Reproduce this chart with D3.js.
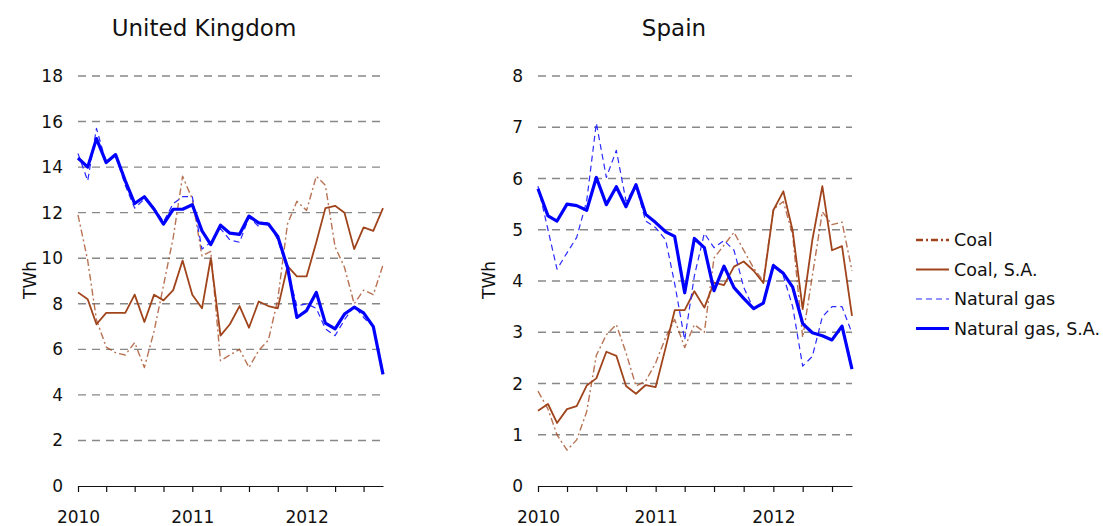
<!DOCTYPE html>
<html>
<head>
<meta charset="utf-8">
<script src="https://cdn.jsdelivr.net/npm/d3@7"></script>
<style>
  body { margin: 0; background: #fff; }
  text { font-family: 'DejaVu Sans', Verdana, sans-serif; fill: #111; }
  .grid line { stroke: #888; stroke-width: 1.4; stroke-dasharray: 8 6; }
  .x.axis path, .x.axis line { stroke: #111; stroke-width: 1.2; }
</style>
</head>
<body>
<div id="chart"></div>
<script>
// monthly, Jan 2010 .. Sep 2012
const months = d3.range(33).map(i => new Date(2010, i, 1))

const ukCoal = [11.9, 9.9, 7.3, 6.1, 5.85, 5.75, 6.3, 5.2, 6.8, 8.8, 10.9, 13.6, 12.6, 10.1, 10.3, 5.5,
  5.75, 6.0, 5.2, 5.95, 6.4, 8.2, 11.5, 12.5, 12.1, 13.6, 13.2, 10.5, 9.6, 8.0, 8.6, 8.4, 9.7]
const ukCoalSA = [8.5, 8.2, 7.1, 7.6, 7.6, 7.6, 8.4, 7.2, 8.4, 8.15, 8.6, 9.9, 8.4, 7.8, 10.0, 6.6,
  7.1, 7.9, 6.95, 8.1, 7.9, 7.8, 9.65, 9.2, 9.2, 10.7, 12.2, 12.3, 12.0, 10.4, 11.35, 11.2, 12.2]
const ukGas = [14.6, 13.4, 15.7, 14.2, 14.5, 13.2, 12.2, 12.6, 12.2, 11.6, 12.4, 12.7, 12.7, 10.4, 10.7, 11.3,
  10.8, 10.7, 11.8, 11.4, 11.6, 10.8, 9.5, 7.9, 8.0, 7.8, 6.9, 6.6, 7.3, 7.9, 7.4, 7.0, 5.0]
const ukGasSA = [14.4, 14.0, 15.25, 14.2, 14.55, 13.4, 12.4, 12.7, 12.15, 11.5, 12.15, 12.15, 12.35, 11.2, 10.6, 11.45,
  11.1, 11.05, 11.85, 11.55, 11.5, 10.95, 9.6, 7.4, 7.7, 8.5, 7.15, 6.9, 7.55, 7.85, 7.6, 7.0, 4.9]

const esCoal = [1.85, 1.5, 1.0, 0.7, 0.9, 1.45, 2.55, 2.95, 3.15, 2.6, 1.95, 2.05, 2.4, 2.9, 3.25, 2.7,
  3.15, 3.0, 4.45, 4.7, 4.95, 4.6, 4.25, 4.0, 5.4, 5.55, 4.9, 2.9, 4.1, 5.35, 5.1, 5.15, 4.2]
const esCoalSA = [1.47, 1.6, 1.23, 1.5, 1.56, 1.96, 2.1, 2.62, 2.54, 1.95, 1.8, 1.97, 1.93, 2.7, 3.43, 3.43,
  3.8, 3.48, 3.97, 3.92, 4.28, 4.38, 4.2, 3.96, 5.38, 5.75, 4.98, 3.45, 4.8, 5.85, 4.6, 4.68, 3.32]
const esGas = [5.85, 5.0, 4.23, 4.55, 4.85, 5.56, 7.08, 6.02, 6.55, 5.56, 5.86, 5.17, 5.04, 4.8, 3.95, 2.85,
  4.1, 4.93, 4.65, 4.79, 4.6, 3.88, 3.45, 3.57, 4.33, 4.1, 3.5, 2.34, 2.53, 3.3, 3.5, 3.5, 2.98]
const esGasSA = [5.8, 5.27, 5.17, 5.5, 5.47, 5.38, 6.02, 5.49, 5.84, 5.45, 5.88, 5.3, 5.14, 4.96, 4.87, 3.77,
  4.83, 4.65, 3.81, 4.29, 3.87, 3.66, 3.46, 3.57, 4.3, 4.15, 3.88, 3.17, 2.99, 2.93, 2.85, 3.12, 2.28]

const seriesNames = ['Coal', 'Coal, S.A.', 'Natural gas', 'Natural gas, S.A.']
const ukTicks = [0, 2, 4, 6, 8, 10, 12, 14, 16, 18]
const esTicks = [0, 1, 2, 3, 4, 5, 6, 7, 8]

const styles = [
  { color: '#a0441c', width: 1.4, dash: '7 3 2 3', opacity: 0.75 },
  { color: '#a0441c', width: 1.8, dash: null, opacity: 1 },
  { color: '#2a2aff', width: 1.2, dash: '6 4', opacity: 1 },
  { color: '#0000ff', width: 3.2, dash: null, opacity: 1 }
]

const svg = d3.select('#chart')
  .append('svg')
  .attr('width', 1103)
  .attr('height', 526)

function drawPanel (title, series, yMax, yTicks, x0, x1, titleX, labelX) {
  const x = d3.scaleTime().domain([months[0], months[months.length - 1]]).range([x0, x1])
  const y = d3.scaleLinear().domain([0, yMax]).range([486, 76])
  const g = svg.append('g')

  g.append('text')
    .text(title)
    .attr('x', titleX)
    .attr('y', 36)
    .attr('text-anchor', 'middle')
    .attr('font-size', 23)

  // dashed gridlines
  g.append('g')
    .attr('class', 'grid')
    .selectAll('line')
    .data(yTicks.filter(d => d > 0))
    .join('line')
    .attr('x1', x0)
    .attr('x2', x1)
    .attr('y1', d => y(d))
    .attr('y2', d => y(d))

  g.append('g')
    .selectAll('text')
    .data(yTicks)
    .join('text')
    .text(d => d)
    .attr('x', x0 - 15)
    .attr('y', d => y(d) + 6)
    .attr('text-anchor', 'end')
    .attr('font-size', 17)

  g.append('text')
    .text('TWh')
    .attr('transform', `translate(${labelX}, 280) rotate(-90)`)
    .attr('text-anchor', 'middle')
    .attr('font-size', 17)

  const xAxis = g.append('g')
    .attr('class', 'x axis')
    .attr('transform', 'translate(0, 486)')
    .call(d3.axisBottom(x)
      .ticks(d3.timeMonth.every(3))
      .tickSize(6)
      .tickSizeOuter(0)
      .tickFormat(d => d.getMonth() === 0 ? d.getFullYear() : ''))
  xAxis.selectAll('text')
    .attr('font-size', 17)
    .attr('dy', '1.65em')
    .style('font-family', "'DejaVu Sans', Verdana, sans-serif")
    .attr('fill', '#111')

  const line = d3.line()
    .x((d, i) => x(months[i]))
    .y(d => y(d))

  series.forEach((vals, k) => {
    const s = styles[k]
    g.append('path')
      .datum(vals)
      .attr('fill', 'none')
      .attr('stroke', s.color)
      .attr('stroke-width', s.width)
      .attr('stroke-dasharray', s.dash)
      .attr('stroke-opacity', s.opacity)
      .attr('stroke-linejoin', 'round')
      .attr('d', line)
  })
}

drawPanel('United Kingdom', [ukCoal, ukCoalSA, ukGas, ukGasSA], 18, ukTicks, 78, 383, 204, 36)
drawPanel('Spain', [esCoal, esCoalSA, esGas, esGasSA], 8, esTicks, 538, 852, 674, 495)

// legend
const legend = svg.append('g')
  .selectAll('g')
  .data(seriesNames)
  .join('g')
  .attr('transform', (d, i) => `translate(916, ${240 + i * 29.5})`)

legend.append('line')
  .attr('x1', 0)
  .attr('x2', 33)
  .attr('stroke', (d, i) => styles[i].color)
  .attr('stroke-width', (d, i) => i === 0 ? 2.5 : styles[i].width)
  .attr('stroke-dasharray', (d, i) => i === 0 ? '7 3 2 3' : styles[i].dash)

legend.append('text')
  .text(d => d)
  .attr('x', 38)
  .attr('y', 6)
  .attr('font-size', 17.5)
</script>
</body>
</html>
